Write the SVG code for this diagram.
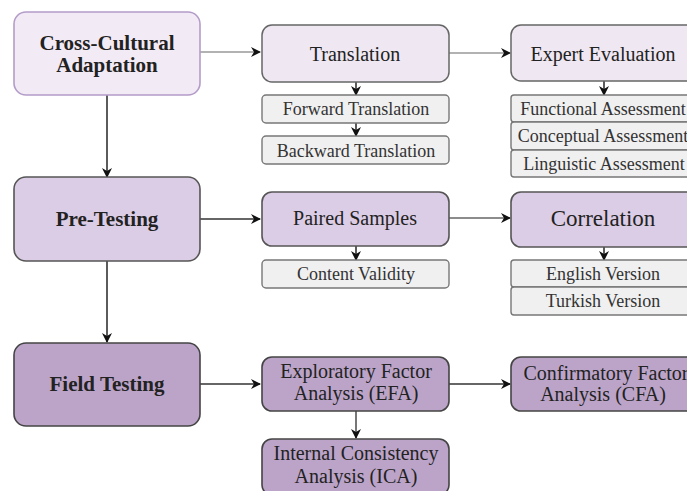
<svg xmlns="http://www.w3.org/2000/svg" width="687" height="491" viewBox="0 0 687 491" font-family="'Liberation Serif', 'Times New Roman', serif">
<defs>
<marker id="ah" viewBox="0 0 10 10" refX="9" refY="5" markerWidth="10" markerHeight="10" markerUnits="userSpaceOnUse" orient="auto">
<path d="M0,0 L10,5 L0,10 L3,5 Z" fill="#111"/>
</marker>
<style>
text{font-family:'Liberation Serif','Times New Roman',serif;fill:#222;text-anchor:middle}
.main{font-weight:bold;font-size:21px}
.mid{font-size:20px}
.sm{font-size:18px;fill:#333}
.c1{fill:#f2eaf5;stroke:#b49cc9;stroke-width:1.6}
.c2{fill:#dccde6;stroke:#555;stroke-width:1.6}
.c3{fill:#bca4c9;stroke:#444;stroke-width:1.6}
.t1{fill:#efe8f2;stroke:#666;stroke-width:1.5}
.sub{fill:#f0f0f0;stroke:#777;stroke-width:1.4}
.con line{stroke:#333;stroke-width:1.6;marker-end:url(#ah)}
</style>
</defs>
<g class="con">
<line x1="200" y1="52" x2="260" y2="52" style="stroke:#999"/>
<line x1="107" y1="95" x2="107" y2="177"/>
<line x1="200" y1="219" x2="260" y2="219"/>
<line x1="107" y1="261" x2="107" y2="342"/>
<line x1="200" y1="384" x2="260" y2="384"/>
<line x1="449" y1="53" x2="510" y2="53" style="stroke:#999"/>
<line x1="356" y1="82" x2="356" y2="95"/>
<line x1="356" y1="123" x2="356" y2="136"/>
<line x1="604" y1="81" x2="604" y2="95"/>
<line x1="449" y1="218" x2="510" y2="218" style="stroke:#666"/>
<line x1="356" y1="246" x2="356" y2="260"/>
<line x1="604" y1="247" x2="604" y2="260"/>
<line x1="449" y1="384" x2="510" y2="384"/>
<line x1="356" y1="411" x2="356" y2="438" style="stroke:#555"/>
</g>
<g id="cca"><rect class="c1" x="14" y="12" width="186" height="83" rx="12"/><text class="main" x="107" y="50">Cross-Cultural</text><text class="main" x="107" y="72">Adaptation</text></g>
<g id="pretesting"><rect class="c2" x="14" y="177" width="186" height="84" rx="12"/><text class="main" x="107" y="226">Pre-Testing</text></g>
<g id="fieldtesting"><rect class="c3" x="14" y="343" width="186" height="83" rx="12"/><text class="main" x="107" y="391">Field Testing</text></g>
<g id="translation"><rect class="t1" x="262" y="25" width="187" height="57" rx="10"/><text class="mid" x="355" y="61">Translation</text></g>
<g id="forward"><rect class="sub" x="262" y="95" width="187" height="28" rx="4"/><text class="sm" x="356" y="115">Forward Translation</text></g>
<g id="backward"><rect class="sub" x="262" y="136" width="187" height="28" rx="4"/><text class="sm" x="356" y="157">Backward Translation</text></g>
<g id="expert"><rect class="t1" x="511" y="25" width="186" height="56" rx="10"/><text class="mid" x="603" y="61">Expert Evaluation</text></g>
<g id="functional"><rect class="sub" x="511" y="95" width="186" height="27" rx="3"/><text class="sm" x="603" y="115">Functional Assessment</text></g>
<g id="conceptual"><rect class="sub" x="511" y="122" width="186" height="28" rx="3"/><text class="sm" x="603" y="142">Conceptual Assessment</text></g>
<g id="linguistic"><rect class="sub" x="511" y="150" width="186" height="27" rx="3"/><text class="sm" x="604" y="170">Linguistic Assessment</text></g>
<g id="paired"><rect class="c2" x="262" y="192" width="187" height="54" rx="10"/><text class="mid" x="355" y="225">Paired Samples</text></g>
<g id="content"><rect class="sub" x="262" y="260" width="187" height="28" rx="4"/><text class="sm" x="356" y="280">Content Validity</text></g>
<g id="correlation"><rect class="c2" x="511" y="192" width="186" height="55" rx="10"/><text x="603" y="226" style="font-size:23px">Correlation</text></g>
<g id="english"><rect class="sub" x="511" y="260" width="186" height="27" rx="3"/><text class="sm" x="603" y="280">English Version</text></g>
<g id="turkish"><rect class="sub" x="511" y="287" width="186" height="28" rx="3"/><text class="sm" x="603" y="307">Turkish Version</text></g>
<g id="efa"><rect class="c3" x="262" y="357" width="187" height="54" rx="10"/><text class="mid" x="356" y="378">Exploratory Factor</text><text class="mid" x="356" y="400">Analysis (EFA)</text></g>
<g id="ica"><rect class="c3" x="262" y="439" width="187" height="56" rx="10"/><text class="mid" x="356" y="460">Internal Consistency</text><text class="mid" x="356" y="483">Analysis (ICA)</text></g>
<g id="cfa"><rect class="c3" x="511" y="357" width="186" height="54" rx="10"/><text class="mid" x="606" y="380">Confirmatory Factor</text><text class="mid" x="603" y="401">Analysis (CFA)</text></g>
</svg>
